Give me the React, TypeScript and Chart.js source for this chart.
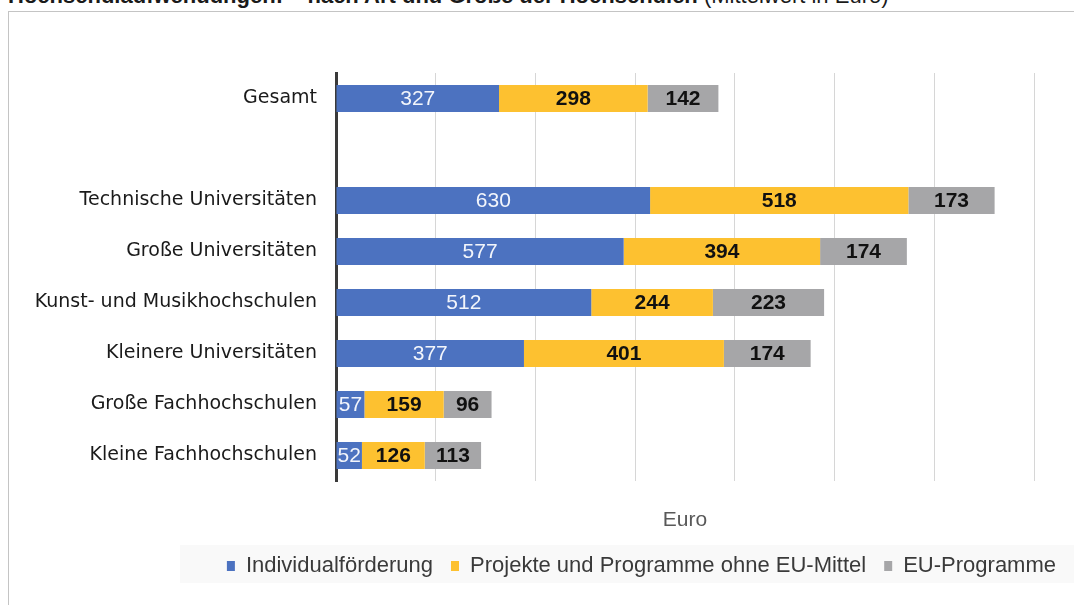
import React, { useEffect, useRef } from "react";
import { Chart, registerables } from "chart.js";

Chart.register(...registerables);

const categories = [
  "Gesamt",
  "",
  "Technische Universitäten",
  "Große Universitäten",
  "Kunst- und Musikhochschulen",
  "Kleinere Universitäten",
  "Große Fachhochschulen",
  "Kleine Fachhochschulen",
];
const individualfoerderung = [327, null, 630, 577, 512, 377, 57, 52];
const projekte = [298, null, 518, 394, 244, 401, 159, 126];
const euProgramme = [142, null, 173, 174, 223, 174, 96, 113];
const seriesNames = [
  "Individualförderung",
  "Projekte und Programme ohne EU-Mittel",
  "EU-Programme",
];
const xMin = 0;
const xMax = 1400;
const xStep = 200;
const axisTitle = "Euro";
const titleBold = "Hochschulaufwendungen: – nach Art und Größe der Hochschulen";
const titleRegular = " (Mittelwert in Euro)";

const colors = ["#4C72C0", "#FDC130", "#A6A6A8"];
const labelStyles = [
  { font: "21px 'Liberation Sans', Arial, sans-serif", color: "#F2F5FB" },
  { font: "bold 21px 'Liberation Sans', Arial, sans-serif", color: "#111111" },
  { font: "bold 21px 'Liberation Sans', Arial, sans-serif", color: "#111111" },
];

const barLabelPlugin = {
  id: "barLabels",
  afterDatasetsDraw(chart: any) {
    const ctx = chart.ctx;
    chart.data.datasets.forEach((ds: any, i: number) => {
      const meta = chart.getDatasetMeta(i);
      meta.data.forEach((el: any, j: number) => {
        const v = ds.data[j];
        if (v == null) return;
        const p = el.getProps(["x", "y", "base"], true);
        ctx.save();
        ctx.font = labelStyles[i].font;
        ctx.fillStyle = labelStyles[i].color;
        ctx.textAlign = "center";
        ctx.textBaseline = "middle";
        ctx.fillText(String(v), (p.x + p.base) / 2, p.y + 1);
        ctx.restore();
      });
    });
  },
};

export default function App() {
  const canvasRef = useRef<HTMLCanvasElement | null>(null);

  useEffect(() => {
    if (!canvasRef.current) return;
    Chart.defaults.font.family = "'Liberation Sans', Arial, sans-serif";
    const series = [individualfoerderung, projekte, euProgramme];
    const chart = new Chart(canvasRef.current, {
      type: "bar",
      data: {
        labels: categories,
        datasets: series.map((d, i) => ({
          label: seriesNames[i],
          data: d,
          backgroundColor: colors[i],
          borderWidth: 0,
          barPercentage: 0.53,
          categoryPercentage: 1,
        })),
      },
      options: {
        indexAxis: "y",
        animation: false,
        responsive: false,
        layout: { padding: { top: 73, left: 0, right: 0, bottom: 18 } },
        plugins: {
          tooltip: { enabled: false },
          legend: {
            position: "bottom",
            align: "end",
            labels: {
              boxWidth: 8,
              boxHeight: 10,
              padding: 18,
              color: "#3a3a3a",
              font: { family: "'Liberation Sans', Arial, sans-serif", size: 22 },
            },
          },
        },
        scales: {
          x: {
            stacked: true,
            min: xMin,
            max: xMax,
            ticks: { display: false, stepSize: xStep },
            grid: { color: "#d6d6d6", lineWidth: 1, drawTicks: false },
            border: { display: false },
            title: {
              display: true,
              text: axisTitle,
              color: "#595959",
              font: { size: 21 },
              padding: { top: 0, bottom: 4 },
            },
            afterFit(s: any) {
              s.height = 56;
            },
          },
          y: {
            stacked: true,
            grid: { display: false, drawTicks: false, tickLength: 0 },
            border: { display: true, color: "#3a3a3a", width: 3 },
            ticks: {
              padding: 19,
              color: "#1a1a1a",
              font: { family: "'DejaVu Sans', sans-serif", size: 19 },
            },
            afterFit(s: any) {
              s.width = 336;
            },
          },
          spacer: {
            type: "linear",
            axis: "y",
            position: "right",
            display: true,
            grid: { display: false, drawTicks: false },
            ticks: { display: false },
            border: { display: false },
            afterFit(s: any) {
              s.width = 40;
            },
          },
        },
      },
      plugins: [barLabelPlugin],
    } as any);
    return () => chart.destroy();
  }, []);

  return (
    <div
      style={{
        position: "absolute",
        left: 0,
        top: 0,
        width: 1074,
        height: 605,
        overflow: "hidden",
        background: "#ffffff",
        fontFamily: "'Liberation Sans', Arial, sans-serif",
      }}
    >
      <div
        style={{
          position: "absolute",
          left: 8,
          top: 11,
          width: 1070,
          height: 600,
          borderLeft: "1px solid #c4c4c4",
          borderTop: "1px solid #c4c4c4",
        }}
      />
      <div
        style={{
          position: "absolute",
          left: 180,
          top: 545,
          width: 894,
          height: 38,
          background: "#f9f9f9",
        }}
      />
      <div
        style={{
          position: "absolute",
          left: 8,
          top: -17,
          fontSize: 22,
          lineHeight: "26px",
          whiteSpace: "nowrap",
          color: "#1a1a1a",
        }}
      >
        <b>{titleBold}</b>
        <span>{titleRegular}</span>
      </div>
      <canvas
        ref={canvasRef}
        width={1074}
        height={605}
        style={{ position: "absolute", left: 0, top: 0, width: 1074, height: 605 }}
      />
    </div>
  );
}
